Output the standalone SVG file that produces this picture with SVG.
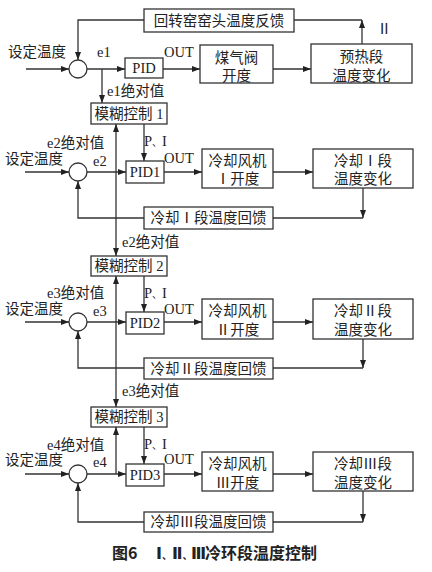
<svg xmlns="http://www.w3.org/2000/svg" width="432" height="572" viewBox="0 0 432 572">
<style>
.bx{fill:#fff;stroke:#333;stroke-width:1.3}
.ln{fill:none;stroke:#333;stroke-width:1.3}
.ar{marker-end:url(#ah)}
.t{font-family:"Liberation Serif","Noto Sans CJK SC",serif;font-size:14.5px;fill:#222}
.c{text-anchor:middle}
.cap{font-family:"Noto Sans CJK SC","Liberation Sans",sans-serif;font-size:16px;font-weight:bold;fill:#222}
.rn{font-family:"DejaVu Sans","Noto Sans CJK SC",sans-serif}
.cm{font-size:10px}
</style>
<defs>
<marker id="ah" markerUnits="userSpaceOnUse" markerWidth="8" markerHeight="6" refX="8" refY="3" orient="auto">
<path d="M0,0 L8,3 L0,6 z" fill="#222"/>
</marker>
</defs>
<rect width="432" height="572" fill="#fff"/>

<g id="connectors">
<!-- section 1 -->
<path class="ln ar" d="M26,69 H69"/>
<path class="ln ar" d="M87,69 H125"/>
<path class="ln ar" d="M163,69 H200"/>
<path class="ln ar" d="M273,69 H311"/>
<path class="ln ar" d="M362,44 V20"/>
<path class="ln" d="M294,20 H362"/>
<path class="ln ar" d="M144,20 H78 V60"/>
<path class="ln ar" d="M102,69 V103"/>
<!-- section 2 -->
<path class="ln ar" d="M144,124 V161"/>
<path class="ln ar" d="M116,172 V124"/>
<path class="ln ar" d="M116,172 V256"/>
<path class="ln ar" d="M25,172 H69"/>
<path class="ln ar" d="M87,172 H126"/>
<path class="ln ar" d="M164,172 H202"/>
<path class="ln ar" d="M273,172 H313"/>
<path class="ln ar" d="M363,188 V218"/>
<path class="ln" d="M273,218 H363"/>
<path class="ln ar" d="M144,218 H78 V181"/>
<!-- section 3 -->
<path class="ln ar" d="M144,276 V312"/>
<path class="ln ar" d="M116,322 V276"/>
<path class="ln ar" d="M116,322 V407"/>
<path class="ln ar" d="M25,322 H69"/>
<path class="ln ar" d="M87,322 H126"/>
<path class="ln ar" d="M164,322 H202"/>
<path class="ln ar" d="M273,322 H313"/>
<path class="ln ar" d="M363,339 V368"/>
<path class="ln" d="M273,368 H363"/>
<path class="ln ar" d="M144,368 H78 V331"/>
<!-- section 4 -->
<path class="ln ar" d="M144,427 V464"/>
<path class="ln ar" d="M116,474 V427"/>
<path class="ln ar" d="M25,474 H69"/>
<path class="ln ar" d="M87,474 H126"/>
<path class="ln ar" d="M164,474 H202"/>
<path class="ln ar" d="M273,474 H313"/>
<path class="ln ar" d="M363,491 V522"/>
<path class="ln" d="M273,522 H363"/>
<path class="ln ar" d="M144,522 H78 V483"/>
</g>

<g id="labels">
<text class="t" x="8" y="57">设定温度</text>
<text class="t" x="97" y="57">e1</text>
<text class="t" x="164" y="57">OUT</text>
<text class="t" x="107" y="96">e1绝对值</text>
<text class="t" x="377" y="34">Ⅱ</text>

<text class="t" x="47" y="148">e2绝对值</text>
<text class="t" x="5" y="164">设定温度</text>
<text class="t" x="93" y="166">e2</text>
<text class="t" x="144" y="146">P<tspan class="cm">、</tspan>I</text>
<text class="t" x="164" y="163">OUT</text>
<text class="t" x="122" y="247">e2绝对值</text>

<text class="t" x="47" y="298">e3绝对值</text>
<text class="t" x="5" y="314">设定温度</text>
<text class="t" x="93" y="316">e3</text>
<text class="t" x="144" y="298">P<tspan class="cm">、</tspan>I</text>
<text class="t" x="164" y="314">OUT</text>
<text class="t" x="122" y="396">e3绝对值</text>

<text class="t" x="47" y="450">e4绝对值</text>
<text class="t" x="5" y="465">设定温度</text>
<text class="t" x="93" y="467">e4</text>
<text class="t" x="144" y="449">P<tspan class="cm">、</tspan>I</text>
<text class="t" x="164" y="464">OUT</text>
</g>

<g id="sum1"><circle class="bx" cx="78" cy="69" r="9"/></g>
<g id="fb0"><rect class="bx" x="144" y="9" width="150" height="23"/><text class="t c" x="219" y="26">回转窑窑头温度反馈</text></g>
<g id="pid"><rect class="bx" x="125" y="58" width="38" height="20"/><text class="t c" x="144" y="73">PID</text></g>
<g id="valve"><rect class="bx" x="200" y="45" width="73" height="38"/><text class="t c" x="236.5" y="63">煤气阀</text><text class="t c" x="236.5" y="81">开度</text></g>
<g id="preheat"><rect class="bx" x="311" y="44" width="101" height="39"/><text class="t c" x="361.5" y="62">预热段</text><text class="t c" x="361.5" y="81">温度变化</text></g>
<g id="fuzzy1"><rect class="bx" x="91" y="103" width="76" height="21"/><text class="t c" x="129" y="119">模糊控制 1</text></g>

<g id="sum2"><circle class="bx" cx="78" cy="172" r="9"/></g>
<g id="pid1"><rect class="bx" x="126" y="161" width="38" height="22"/><text class="t c" x="145" y="177">PID1</text></g>
<g id="fan1"><rect class="bx" x="202" y="149" width="71" height="39"/><text class="t c" x="237.5" y="166">冷却风机</text><text class="t c" x="237.5" y="184">Ⅰ开度</text></g>
<g id="cool1"><rect class="bx" x="313" y="149" width="100" height="39"/><text class="t c" x="363" y="166">冷却Ⅰ段</text><text class="t c" x="363" y="184">温度变化</text></g>
<g id="fb1"><rect class="bx" x="144" y="207" width="129" height="22"/><text class="t c" x="208.5" y="223">冷却Ⅰ段温度回馈</text></g>
<g id="fuzzy2"><rect class="bx" x="91" y="256" width="76" height="20"/><text class="t c" x="129" y="271">模糊控制 2</text></g>

<g id="sum3"><circle class="bx" cx="78" cy="322" r="9"/></g>
<g id="pid2"><rect class="bx" x="126" y="312" width="38" height="22"/><text class="t c" x="145" y="328">PID2</text></g>
<g id="fan2"><rect class="bx" x="202" y="299" width="71" height="40"/><text class="t c" x="237.5" y="316">冷却风机</text><text class="t c" x="237.5" y="335">Ⅱ开度</text></g>
<g id="cool2"><rect class="bx" x="313" y="299" width="100" height="40"/><text class="t c" x="363" y="316">冷却Ⅱ段</text><text class="t c" x="363" y="335">温度变化</text></g>
<g id="fb2"><rect class="bx" x="144" y="358" width="129" height="21"/><text class="t c" x="208.5" y="374">冷却Ⅱ段温度回馈</text></g>
<g id="fuzzy3"><rect class="bx" x="91" y="407" width="76" height="20"/><text class="t c" x="129" y="422">模糊控制 3</text></g>

<g id="sum4"><circle class="bx" cx="78" cy="474" r="9"/></g>
<g id="pid3"><rect class="bx" x="126" y="464" width="38" height="22"/><text class="t c" x="145" y="480">PID3</text></g>
<g id="fan3"><rect class="bx" x="202" y="452" width="71" height="39"/><text class="t c" x="237.5" y="469">冷却风机</text><text class="t c" x="237.5" y="488">Ⅲ开度</text></g>
<g id="cool3"><rect class="bx" x="313" y="452" width="100" height="39"/><text class="t c" x="363" y="469">冷却Ⅲ段</text><text class="t c" x="363" y="488">温度变化</text></g>
<g id="fb3"><rect class="bx" x="144" y="512" width="129" height="20"/><text class="t c" x="208.5" y="527">冷却Ⅲ段温度回馈</text></g>

<text class="cap" x="112" y="559">图6<tspan class="rn" x="156">Ⅰ</tspan><tspan class="cm">、</tspan><tspan class="rn" x="172">Ⅱ</tspan><tspan class="cm">、</tspan><tspan class="rn" x="191">Ⅲ</tspan><tspan x="205">冷环段温度控制</tspan></text>
</svg>
